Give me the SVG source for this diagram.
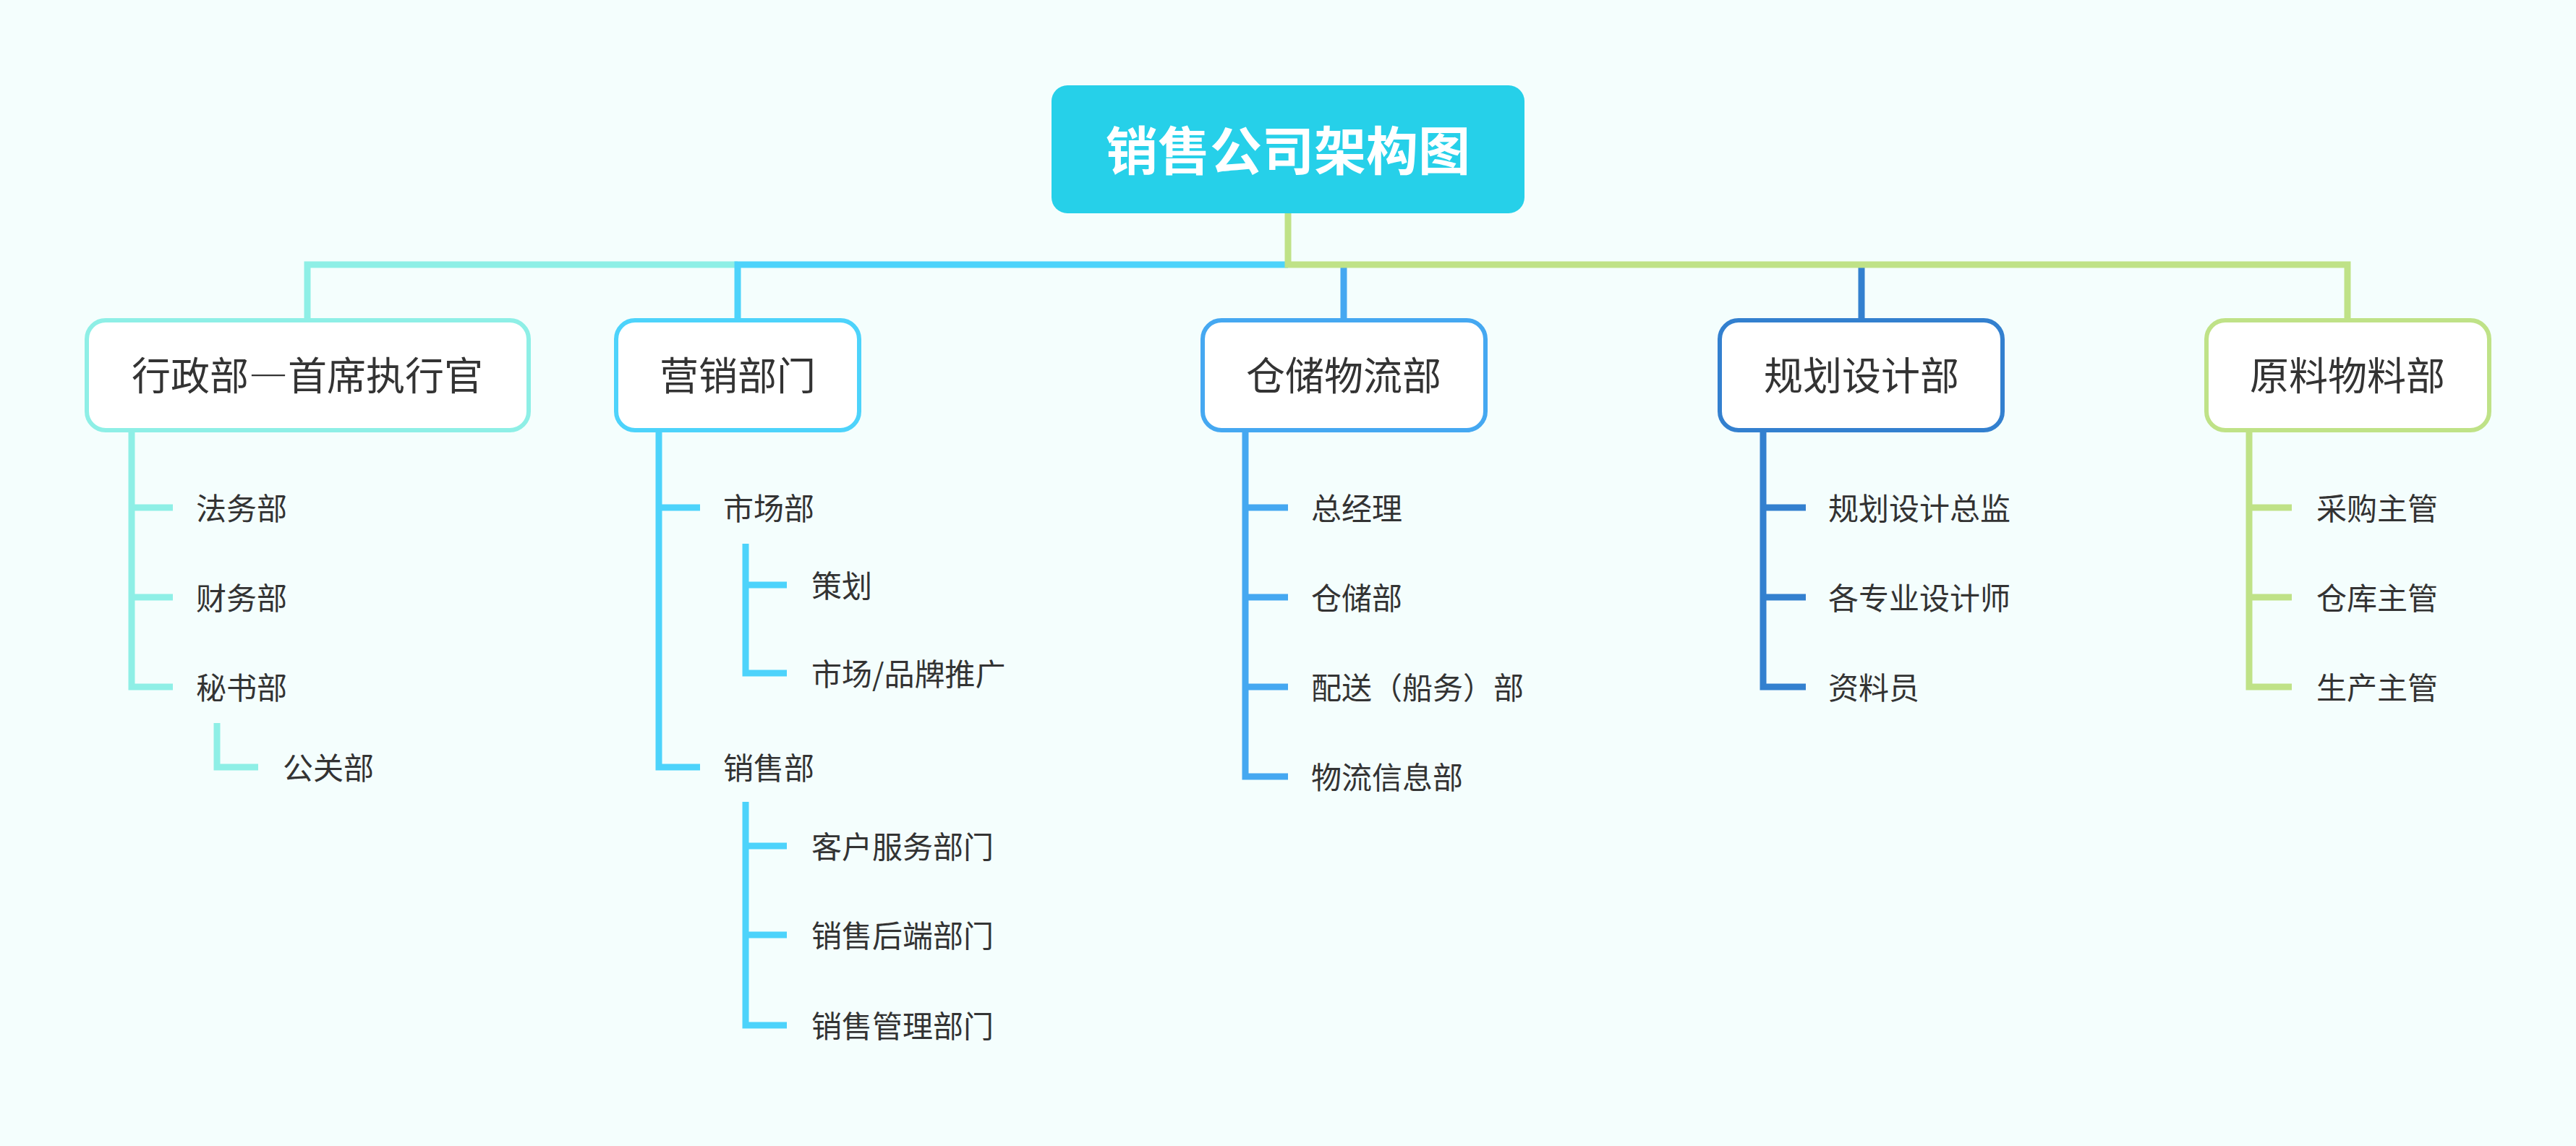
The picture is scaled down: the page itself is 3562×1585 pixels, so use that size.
<svg xmlns="http://www.w3.org/2000/svg" width="3562" height="1585" viewBox="0 0 3562 1585">
<style>
  .bg{fill:#F4FEFD}
  .node{fill:#FFFFFF;stroke-width:6}
  .ntext{font-family:"Noto Sans CJK SC","Noto Sans",sans-serif;font-size:54px;fill:#333333;text-anchor:middle;dominant-baseline:central}
  .ctext{font-family:"Noto Sans CJK SC","Noto Sans",sans-serif;font-size:42px;fill:#333333;dominant-baseline:central}
  .title{font-family:"Noto Sans CJK SC","Noto Sans",sans-serif;font-size:72px;font-weight:bold;fill:#FFFFFF;text-anchor:middle;dominant-baseline:central}
  .fw{font-feature-settings:"fwid" 1}
  .ln{fill:none;stroke-width:9;stroke-linecap:butt;stroke-linejoin:miter}
  .c1{stroke:#8EEFE6}
  .c2{stroke:#4DD3FB}
  .c3{stroke:#45A8F1}
  .c4{stroke:#3380CF}
  .c5{stroke:#BFE287}
</style>
<rect class="bg" x="0" y="0" width="3562" height="1585"/>

<g id="connectors">
  <path class="ln c3" d="M1858 362 V443"/>
  <path class="ln c4" d="M2574 362 V443"/>
  <path class="ln c1" d="M425 443 V366 H1020"/>
  <path class="ln c2" d="M1020 443 V366 H1781"/>
  <path class="ln c5" d="M1781 295 V366 H3246 V443"/>

  <!-- 行政部 children -->
  <path class="ln c1" d="M182 595 V950 H239"/>
  <path class="ln c1" d="M182 702 H239"/>
  <path class="ln c1" d="M182 826 H239"/>
  <path class="ln c1" d="M300 1000 V1061 H357"/>

  <!-- 营销部门 children -->
  <path class="ln c2" d="M911 595 V1061 H968"/>
  <path class="ln c2" d="M911 702 H968"/>
  <path class="ln c2" d="M1031 752 V931 H1088"/>
  <path class="ln c2" d="M1031 809 H1088"/>
  <path class="ln c2" d="M1031 1109 V1418 H1088"/>
  <path class="ln c2" d="M1031 1170 H1088"/>
  <path class="ln c2" d="M1031 1293 H1088"/>

  <!-- 仓储物流部 children -->
  <path class="ln c3" d="M1722 595 V1074 H1781"/>
  <path class="ln c3" d="M1722 702 H1781"/>
  <path class="ln c3" d="M1722 826 H1781"/>
  <path class="ln c3" d="M1722 950 H1781"/>

  <!-- 规划设计部 children -->
  <path class="ln c4" d="M2438 595 V950 H2497"/>
  <path class="ln c4" d="M2438 702 H2497"/>
  <path class="ln c4" d="M2438 826 H2497"/>

  <!-- 原料物料部 children -->
  <path class="ln c5" d="M3110 595 V950 H3169"/>
  <path class="ln c5" d="M3110 702 H3169"/>
  <path class="ln c5" d="M3110 826 H3169"/>
</g>

<g id="root">
  <rect x="1454" y="118" width="654" height="177" rx="22" fill="#26D0E9"/>
  <text class="title" x="1781" y="203">销售公司架构图</text>
</g>

<g id="n-xingzheng">
  <rect class="node c1" x="120" y="443" width="611" height="152" rx="26"/>
  <text class="ntext" x="425" y="516">行政部<tspan class="fw">—</tspan>首席执行官</text>
</g>
<g id="n-yingxiao">
  <rect class="node c2" x="852" y="443" width="336" height="152" rx="26"/>
  <text class="ntext" x="1020" y="516">营销部门</text>
</g>
<g id="n-cangchu">
  <rect class="node c3" x="1663" y="443" width="391" height="152" rx="26"/>
  <text class="ntext" x="1858" y="516">仓储物流部</text>
</g>
<g id="n-guihua">
  <rect class="node c4" x="2378" y="443" width="391" height="152" rx="26"/>
  <text class="ntext" x="2574" y="516">规划设计部</text>
</g>
<g id="n-yuanliao">
  <rect class="node c5" x="3051" y="443" width="391" height="152" rx="26"/>
  <text class="ntext" x="3246" y="516">原料物料部</text>
</g>

<g id="c-fawu"><text class="ctext" x="271" y="700">法务部</text></g>
<g id="c-caiwu"><text class="ctext" x="271" y="824">财务部</text></g>
<g id="c-mishu"><text class="ctext" x="271" y="948">秘书部</text></g>
<g id="c-gongguan"><text class="ctext" x="391" y="1059">公关部</text></g>

<g id="c-shichang"><text class="ctext" x="1000" y="700">市场部</text></g>
<g id="c-cehua"><text class="ctext" x="1122" y="807">策划</text></g>
<g id="c-pinpai"><text class="ctext" x="1122" y="929">市场/品牌推广</text></g>
<g id="c-xiaoshou"><text class="ctext" x="1000" y="1059">销售部</text></g>
<g id="c-kehu"><text class="ctext" x="1122" y="1168">客户服务部门</text></g>
<g id="c-houduan"><text class="ctext" x="1122" y="1291">销售后端部门</text></g>
<g id="c-guanli"><text class="ctext" x="1122" y="1416">销售管理部门</text></g>

<g id="c-zongjingli"><text class="ctext" x="1813" y="700">总经理</text></g>
<g id="c-cangchubu"><text class="ctext" x="1813" y="824">仓储部</text></g>
<g id="c-peisong"><text class="ctext" x="1813" y="948">配送（船务）部</text></g>
<g id="c-xinxi"><text class="ctext" x="1813" y="1072">物流信息部</text></g>

<g id="c-zongjian"><text class="ctext" x="2528" y="700">规划设计总监</text></g>
<g id="c-shejishi"><text class="ctext" x="2528" y="824">各专业设计师</text></g>
<g id="c-ziliao"><text class="ctext" x="2528" y="948">资料员</text></g>

<g id="c-caigou"><text class="ctext" x="3203" y="700">采购主管</text></g>
<g id="c-cangku"><text class="ctext" x="3203" y="824">仓库主管</text></g>
<g id="c-shengchan"><text class="ctext" x="3203" y="948">生产主管</text></g>
</svg>
